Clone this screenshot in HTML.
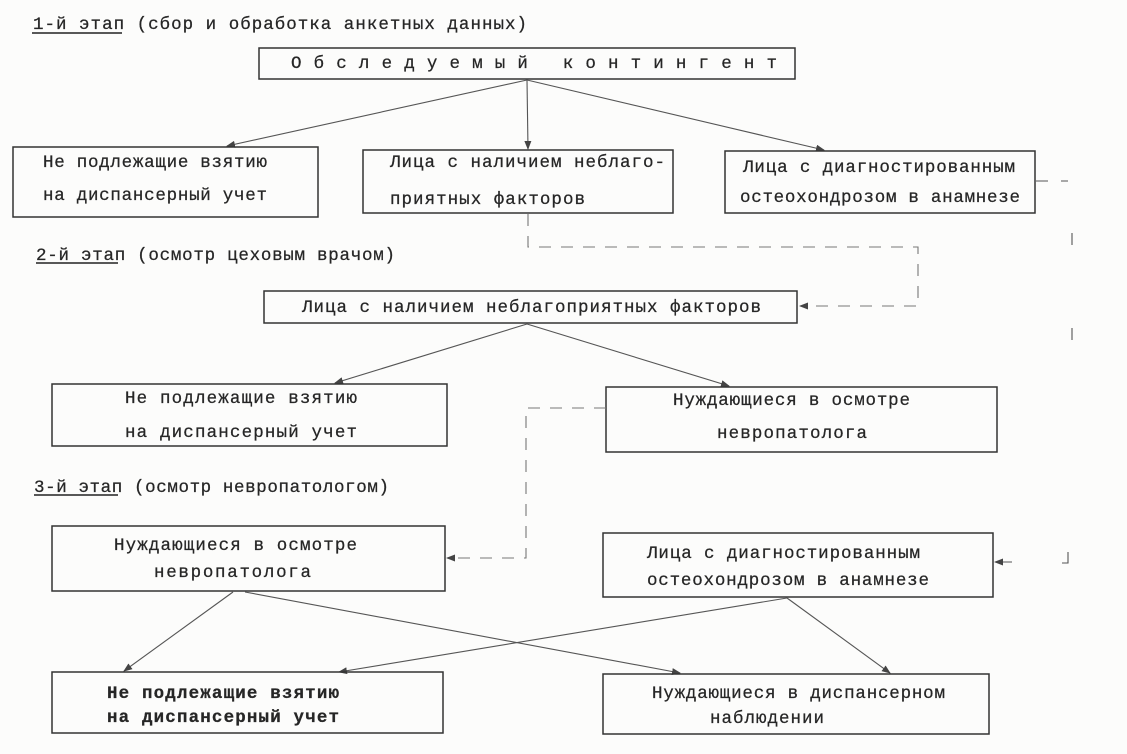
<!DOCTYPE html>
<html>
<head>
<meta charset="utf-8">
<style>
html,body{margin:0;padding:0;background:#fcfcfb;}
svg{display:block;}
text{font-family:"Liberation Mono","DejaVu Sans Mono",monospace;font-size:17.5px;fill:#262626;white-space:pre;stroke:#262626;stroke-width:0.25;}
.b{fill:none;stroke:#333;stroke-width:1.5;}
.l{fill:none;stroke:#555;stroke-width:1.1;}
.d{fill:none;stroke:#777;stroke-width:1.1;stroke-dasharray:12 10;}
.u{stroke:#222;stroke-width:1.6;}
</style>
</head>
<body>
<svg width="1127" height="754" viewBox="0 0 1127 754" xmlns="http://www.w3.org/2000/svg" xml:space="preserve">
<defs>
<marker id="a" markerUnits="userSpaceOnUse" markerWidth="9" markerHeight="7" refX="8" refY="3.5" orient="auto">
<path d="M0,0 L9,3.5 L0,7 z" fill="#444"/>
</marker>
</defs>

<!-- Stage 1 -->
<text x="33" y="29" textLength="494" lengthAdjust="spacing">1-й этап (сбор и обработка анкетных данных)</text>
<line class="u" x1="32" y1="33" x2="122" y2="33"/>

<rect class="b" x="259" y="48" width="536" height="31"/>
<text x="291" y="68" textLength="486" lengthAdjust="spacing">О б с л е д у е м ы й   к о н т и н г е н т</text>

<line class="l" x1="527" y1="80" x2="227" y2="146" marker-end="url(#a)"/>
<line class="l" x1="527" y1="80" x2="528" y2="149" marker-end="url(#a)"/>
<line class="l" x1="527" y1="80" x2="824" y2="150" marker-end="url(#a)"/>

<rect class="b" x="13" y="147" width="305" height="70"/>
<text x="43" y="167" textLength="224" lengthAdjust="spacing">Не подлежащие взятию</text>
<text x="43" y="200" textLength="224" lengthAdjust="spacing">на диспансерный учет</text>

<rect class="b" x="363" y="150" width="310" height="63"/>
<text x="390" y="167" textLength="275" lengthAdjust="spacing">Лица с наличием неблаго-</text>
<text x="390" y="204" textLength="195" lengthAdjust="spacing">приятных факторов</text>

<rect class="b" x="725" y="151" width="310" height="62"/>
<text x="743" y="172" textLength="272" lengthAdjust="spacing">Лица с диагностированным</text>
<text x="740" y="202" textLength="280" lengthAdjust="spacing">остеохондрозом в анамнезе</text>

<path class="l" d="M1036,181 H1048 M1061,181 H1068"/>

<!-- dashed from B to D -->
<path class="d" d="M528,214 V247 H918 V306 H800" marker-end="url(#a)"/>

<!-- stray marks -->
<path class="l" d="M1072,233 V245 M1072,328 V340"/>

<!-- Stage 2 -->
<text x="36" y="260" textLength="359" lengthAdjust="spacing">2-й этап (осмотр цеховым врачом)</text>
<line class="u" x1="36" y1="263" x2="118" y2="263"/>

<rect class="b" x="264" y="291" width="533" height="32"/>
<text x="302" y="312" textLength="459" lengthAdjust="spacing">Лица с наличием неблагоприятных факторов</text>

<line class="l" x1="527" y1="324" x2="335" y2="383" marker-end="url(#a)"/>
<line class="l" x1="527" y1="324" x2="729" y2="386" marker-end="url(#a)"/>

<rect class="b" x="52" y="384" width="395" height="62"/>
<text x="125" y="403" textLength="232" lengthAdjust="spacing">Не подлежащие взятию</text>
<text x="125" y="437" textLength="232" lengthAdjust="spacing">на диспансерный учет</text>

<rect class="b" x="606" y="387" width="391" height="65"/>
<text x="673" y="405" textLength="237" lengthAdjust="spacing">Нуждающиеся в осмотре</text>
<text x="717" y="438" textLength="150" lengthAdjust="spacing">невропатолога</text>

<!-- dashed from F to G -->
<path class="d" d="M606,408 H526 V558 H447" marker-end="url(#a)"/>

<!-- Stage 3 -->
<text x="34" y="492" textLength="355" lengthAdjust="spacing">3-й этап (осмотр невропатологом)</text>
<line class="u" x1="34" y1="495" x2="118" y2="495"/>

<rect class="b" x="52" y="526" width="393" height="65"/>
<text x="114" y="550" textLength="243" lengthAdjust="spacing">Нуждающиеся в осмотре</text>
<text x="154" y="577" textLength="157" lengthAdjust="spacing">невропатолога</text>

<rect class="b" x="603" y="533" width="390" height="64"/>
<text x="647" y="558" textLength="273" lengthAdjust="spacing">Лица с диагностированным</text>
<text x="647" y="585" textLength="282" lengthAdjust="spacing">остеохондрозом в анамнезе</text>

<path class="l" d="M1012,562 H995" marker-end="url(#a)"/>
<path class="l" d="M1068,552 V563 H1062"/>

<line class="l" x1="233" y1="592" x2="124" y2="671" marker-end="url(#a)"/>
<line class="l" x1="245" y1="592" x2="680" y2="673" marker-end="url(#a)"/>
<line class="l" x1="787" y1="598" x2="339" y2="672" marker-end="url(#a)"/>
<line class="l" x1="787" y1="598" x2="890" y2="673" marker-end="url(#a)"/>

<rect class="b" x="52" y="672" width="391" height="61"/>
<text x="107" y="698" textLength="232" lengthAdjust="spacing" style="font-weight:bold">Не подлежащие взятию</text>
<text x="107" y="722" textLength="232" lengthAdjust="spacing" style="font-weight:bold">на диспансерный учет</text>

<rect class="b" x="603" y="674" width="386" height="60"/>
<text x="652" y="698" textLength="293" lengthAdjust="spacing">Нуждающиеся в диспансерном</text>
<text x="710" y="723" textLength="114" lengthAdjust="spacing">наблюдении</text>
</svg>
</body>
</html>
